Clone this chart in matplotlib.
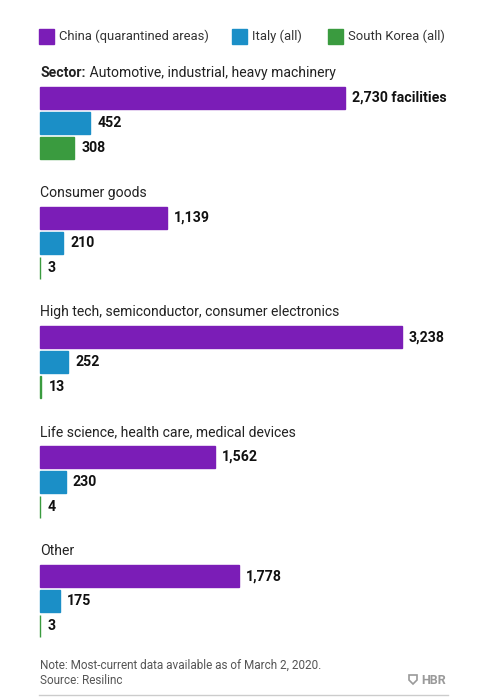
import matplotlib
matplotlib.use("Agg")
import matplotlib.pyplot as plt
from matplotlib.patches import Rectangle, Polygon

# ---- data ----
sectors = [
    "Automotive, industrial, heavy machinery",
    "Consumer goods",
    "High tech, semiconductor, consumer electronics",
    "Life science, health care, medical devices",
    "Other",
]
series_names = ["China (quarantined areas)", "Italy (all)", "South Korea (all)"]
china = [2730, 1139, 3238, 1562, 1778]
italy = [452, 210, 252, 230, 175]
korea = [308, 3, 13, 4, 3]
colors = ["#7b1db7", "#1b8fc7", "#3a9b3f"]

fam = "Roboto"
plt.rcParams["font.family"] = [fam, "DejaVu Sans"]

W, H = 496, 697
fig = plt.figure(figsize=(W / 100, H / 100), dpi=100)
ax = fig.add_axes([0, 0, 1, 1])
x0_px = 40
px_per_unit = (345 - 40) / 2730
ax.set_xlim(-x0_px / px_per_unit, (W - x0_px) / px_per_unit)
ax.set_ylim(H, 0)
ax.axis("off")

title_top = 73
group_step = 119.6
bar_first = 87
bar_step = 25
bar_h = 22
fs_title = 10.1
fs_val = 10.2

all_series = [china, italy, korea]
for g, sector in enumerate(sectors):
    for s, vals in enumerate(all_series):
        yc = bar_first + g * group_step + s * bar_step + bar_h / 2
        v = vals[g]
        ax.barh(yc, v, height=bar_h, left=0, color=colors[s], edgecolor=colors[s],
                linewidth=1.0)
        lab = f"{v:,}"
        if g == 0 and s == 0:
            lab += " facilities"
        ax.annotate(lab, xy=(v, yc), xytext=(5, 0), textcoords="offset points",
                    fontsize=fs_val, fontweight="bold", color="#111111",
                    va="center", ha="left")

# group titles (with bold "Sector:" prefix for the first)
for g, sector in enumerate(sectors):
    ty = title_top + g * group_step
    if g == 0:
        t = ax.text(0, ty, "Sector:", fontsize=fs_title, fontweight="bold",
                    color="#222222", va="center", ha="left")
        fig.canvas.draw()
        bb = t.get_window_extent(fig.canvas.get_renderer())
        xdata = ax.transData.inverted().transform((bb.x1, 0))[0]
        ax.text(xdata, ty, " " + sector, fontsize=fs_title, color="#222222",
                va="center", ha="left")
    else:
        ax.text(0, ty, sector, fontsize=fs_title, color="#222222", va="center", ha="left")

# legend
leg_x = [39, 232, 328]
for i, (lx, name) in enumerate(zip(leg_x, series_names)):
    fig.patches.append(Rectangle((lx / W, 1 - 44 / H), 15 / W, 15 / H,
                                 transform=fig.transFigure, color=colors[i]))
    fig.text((lx + 20) / W, 1 - 36.5 / H, name, fontsize=9.4, color="#333333",
             va="center", ha="left")

# footer
fig.text(40 / W, 1 - 665 / H, "Note: Most-current data available as of March 2, 2020.",
         fontsize=8.5, color="#555555", va="center", ha="left")
fig.text(40 / W, 1 - 680 / H, "Source: Resilinc", fontsize=8.5, color="#555555",
         va="center", ha="left")
fig.text(446 / W, 1 - 680 / H, "HBR", fontsize=9, fontweight="bold",
         color="#9a9a9a", va="center", ha="right")
# small shield logo
sx, sy = 409, 675
shield = [(sx, sy), (sx + 8, sy), (sx + 8, sy + 5), (sx + 4, sy + 9), (sx, sy + 5)]
fig.patches.append(Polygon([(px / W, 1 - py / H) for px, py in shield], closed=True,
                           transform=fig.transFigure, facecolor="none",
                           edgecolor="#9a9a9a", lw=1.2))
ax.plot([-x0_px / px_per_unit + 39 / px_per_unit, (448 - x0_px) / px_per_unit],
        [695, 695], color="#cccccc", lw=1)

fig.savefig("out.png", dpi=100)
